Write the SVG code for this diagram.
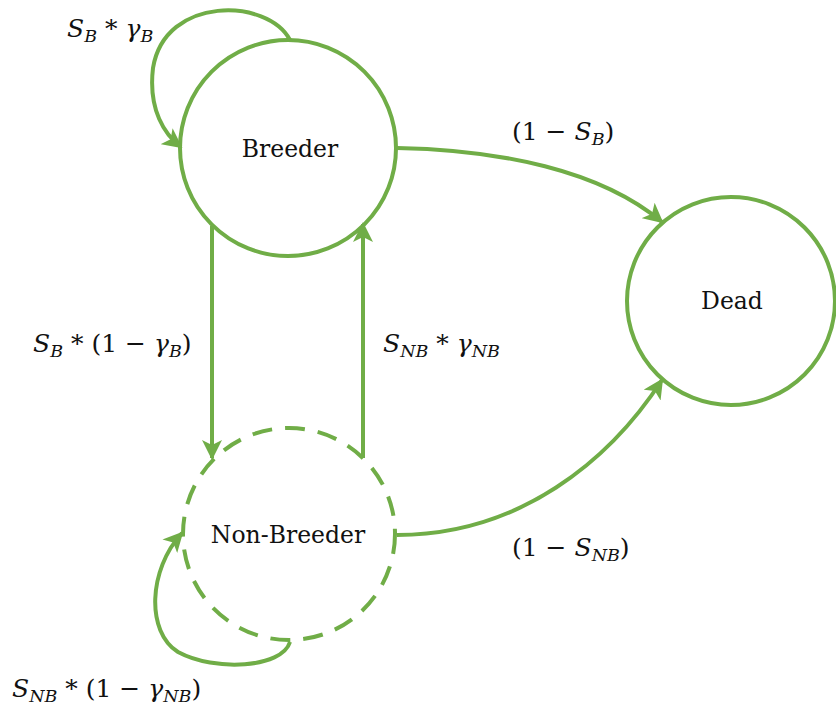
<svg xmlns="http://www.w3.org/2000/svg" width="836" height="713" viewBox="0 0 836 713">
<style>
.node{fill:#fff;stroke:#70AD47;stroke-width:4}
.dash{stroke-dasharray:20 13}
.edge{fill:none;stroke:#70AD47;stroke-width:4}
.nl{font-family:"DejaVu Serif","Liberation Serif",serif;font-size:23.5px;fill:#111;text-anchor:middle}
.ml{font-family:"DejaVu Serif","Liberation Serif",serif;font-size:25px;fill:#111}
.it{font-style:italic}
.sub{font-size:17.5px;font-style:italic}
</style>
<defs>
<marker id="ah" viewBox="0 0 10 10" refX="9" refY="5" markerWidth="5" markerHeight="5" markerUnits="strokeWidth" orient="auto">
<path d="M0,0 L10,5 L0,10 L2.5,5 Z" fill="#70AD47"/>
</marker>
</defs>
<g id="breeder">
<circle class="node" cx="288" cy="148" r="108"/>
<text class="nl" x="290" y="157">Breeder</text>
</g>
<g id="dead">
<circle class="node" cx="731" cy="301" r="104"/>
<text class="nl" x="732" y="309">Dead</text>
</g>
<g id="nonbreeder">
<circle class="node dash" cx="289" cy="534" r="106"/>
<text class="nl" x="288" y="543">Non-Breeder</text>
</g>
<g id="connectors">
<path class="edge" marker-end="url(#ah)" d="M290,40 C268,-2 165,-5 153,68 C148,110 165,135 181,147"/>
<path class="edge" marker-end="url(#ah)" d="M397,148 C500,150 600,170 662,222"/>
<path class="edge" marker-end="url(#ah)" d="M212,226 L212,458"/>
<path class="edge" marker-end="url(#ah)" d="M363,458 L363,224"/>
<path class="edge" marker-end="url(#ah)" d="M397,535 C520,535 610,460 662,380"/>
<path class="edge" marker-end="url(#ah)" d="M290,642 C282,668 215,672 178,652 C146,632 148,570 182,533"/>
</g>
<g id="labels">
<text class="ml" x="67" y="37"><tspan class="it">S</tspan><tspan class="sub" dy="5">B</tspan><tspan dy="-5"> * </tspan><tspan class="it">γ</tspan><tspan class="sub" dy="5">B</tspan></text>
<text class="ml" x="512" y="140">(1 − <tspan class="it">S</tspan><tspan class="sub" dy="5">B</tspan><tspan dy="-5">)</tspan></text>
<text class="ml" x="33" y="352"><tspan class="it">S</tspan><tspan class="sub" dy="5">B</tspan><tspan dy="-5"> * (1 − </tspan><tspan class="it">γ</tspan><tspan class="sub" dy="5">B</tspan><tspan dy="-5">)</tspan></text>
<text class="ml" x="383" y="352"><tspan class="it">S</tspan><tspan class="sub" dy="5">NB</tspan><tspan dy="-5"> * </tspan><tspan class="it">γ</tspan><tspan class="sub" dy="5">NB</tspan></text>
<text class="ml" x="512" y="556">(1 − <tspan class="it">S</tspan><tspan class="sub" dy="5">NB</tspan><tspan dy="-5">)</tspan></text>
<text class="ml" x="12" y="697"><tspan class="it">S</tspan><tspan class="sub" dy="5">NB</tspan><tspan dy="-5"> * (1 − </tspan><tspan class="it">γ</tspan><tspan class="sub" dy="5">NB</tspan><tspan dy="-5">)</tspan></text>
</g>
</svg>
